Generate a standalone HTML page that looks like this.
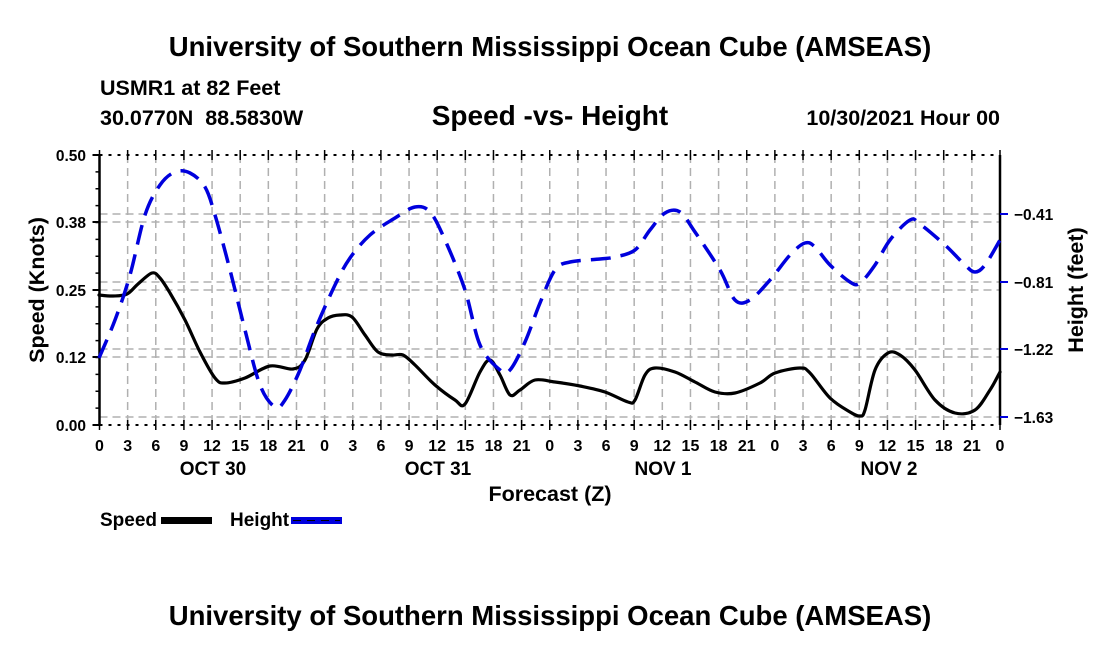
<!DOCTYPE html>
<html><head><meta charset="utf-8"><style>
html,body{margin:0;padding:0;background:#fff;}
svg{display:block;font-family:"Liberation Sans",Arial,sans-serif;font-weight:bold;}
</style></head><body>
<svg id="s" width="1100" height="650" viewBox="0 0 1100 650" xmlns="http://www.w3.org/2000/svg">
<rect width="1100" height="650" fill="#fff"/>
<text x="550" y="56" font-size="27.5" text-anchor="middle">University of Southern Mississippi Ocean Cube (AMSEAS)</text>
<text x="100" y="95" font-size="21.5">USMR1 at 82 Feet</text>
<text x="100" y="125" font-size="21.5" xml:space="preserve">30.0770N  88.5830W</text>
<text x="550" y="125" font-size="28" text-anchor="middle">Speed -vs- Height</text>
<text x="1000" y="125" font-size="21.5" text-anchor="end">10/30/2021 Hour 00</text>
<g id="grid" stroke="#b0b0b0" stroke-width="1.5" stroke-dasharray="8,5" fill="none"></g>
<g id="axes"></g>
<path id="sp" fill="none" stroke="#000" stroke-width="3.2" stroke-linejoin="round" stroke-linecap="round" data-p="99,295 113,296 127,294 138,284 152,273 160,278 170,293 185,320 200,352 215,378 225,383 245,378 270,366 293,369 305,360 317,329 328,318 340,315 352,317 365,335 378,352 392,355 403,355 415,365 435,385 455,400 465,404 480,372 490,360 500,375 510,395 520,390 535,380 555,382 580,386 605,392 628,402 635,400 645,375 655,368 675,372 695,382 715,392 735,393 760,383 775,373 800,368 810,373 830,398 850,412 860,416 865,410 875,370 888,353 900,355 915,370 935,400 955,413 975,410 990,390 1000,372"/>
<path id="hp" fill="none" stroke="#0000dd" stroke-width="3.5" stroke-dasharray="20,10" stroke-linejoin="round" data-p="99,358 115,320 130,275 145,215 160,185 175,172 190,173 205,187 215,215 230,270 245,330 260,385 275,407 285,400 300,370 315,330 335,285 350,258 370,235 395,218 415,207 430,212 445,240 465,290 480,345 500,370 510,370 525,342 540,303 555,270 570,262 600,259 615,257 635,250 650,230 665,213 680,212 695,232 720,270 735,300 750,300 770,280 790,255 805,243 815,247 830,265 850,282 860,283 875,265 890,240 910,220 920,224 945,245 965,265 975,272 985,265 1000,240"/>
<g font-size="15.5" text-anchor="end">
<text x="86" y="161">0.50</text><text x="86" y="228">0.38</text><text x="86" y="296">0.25</text><text x="86" y="363">0.12</text><text x="86" y="431">0.00</text>
</g>
<g font-size="15.5">
<text x="1014" y="220">−0.41</text><text x="1014" y="288">−0.81</text><text x="1014" y="355">−1.22</text><text x="1014" y="423">−1.63</text>
</g>
<text transform="translate(44,290) rotate(-90)" font-size="21.5" text-anchor="middle">Speed (Knots)</text>
<text transform="translate(1083,290) rotate(-90)" font-size="21.5" text-anchor="middle">Height (feet)</text>
<g id="xl" font-size="16" text-anchor="middle"></g>
<g font-size="19" text-anchor="middle">
<text x="213" y="475">OCT 30</text><text x="438" y="475">OCT 31</text><text x="663" y="475">NOV 1</text><text x="889" y="475">NOV 2</text>
</g>
<text x="550" y="501" font-size="21.5" text-anchor="middle">Forecast (Z)</text>
<text x="100" y="526" font-size="19">Speed</text>
<rect x="161" y="517" width="51" height="7" fill="#000"/>
<text x="230" y="526" font-size="19">Height</text>
<rect x="291" y="517" width="51" height="7" fill="#0000dd"/>
<line x1="293" y1="520.5" x2="340" y2="520.5" stroke="#000" stroke-width="1" stroke-dasharray="8,6"/>
<text x="550" y="625" font-size="27.5" text-anchor="middle">University of Southern Mississippi Ocean Cube (AMSEAS)</text>
</svg>
<script>
var ns="http://www.w3.org/2000/svg";
function el(p,t,a){var e=document.createElementNS(ns,t);for(var k in a)e.setAttribute(k,a[k]);p.appendChild(e);return e;}
function smooth(id){var e=document.getElementById(id);var p=e.getAttribute('data-p').split(' ').map(function(s){return s.split(',').map(Number);});
 var d='M'+p[0][0]+','+p[0][1];
 for(var i=0;i<p.length-1;i++){var p0=p[i-1]||p[i],p1=p[i],p2=p[i+1],p3=p[i+2]||p2;
  var c1x=p1[0]+(p2[0]-p0[0])/6,c1y=p1[1]+(p2[1]-p0[1])/6,c2x=p2[0]-(p3[0]-p1[0])/6,c2y=p2[1]-(p3[1]-p1[1])/6;
  d+=' C'+c1x.toFixed(1)+','+c1y.toFixed(1)+' '+c2x.toFixed(1)+','+c2y.toFixed(1)+' '+p2[0]+','+p2[1];}
 e.setAttribute('d',d);e.removeAttribute('data-p');}
smooth('sp');smooth('hp');
var g=document.getElementById('grid'),ax=document.getElementById('axes'),xl=document.getElementById('xl');
var L=99.5,R=1000,T=155,B=425,dx=(R-L)/32;
[222,214,290,282,357,349,417].forEach(function(y){el(g,'line',{x1:L,x2:R,y1:y,y2:y});});
for(var i=1;i<32;i++){var x=L+i*dx;el(g,'line',{x1:x,x2:x,y1:T,y2:B});}
el(ax,'line',{x1:L,x2:L,y1:T,y2:B,stroke:'#000','stroke-width':2.5});
el(ax,'line',{x1:R,x2:R,y1:T,y2:B,stroke:'#000','stroke-width':2.5});
el(ax,'line',{x1:L,x2:R,y1:T,y2:T,stroke:'#000','stroke-width':2,'stroke-dasharray':'3,6'});
el(ax,'line',{x1:L,x2:R,y1:B,y2:B,stroke:'#000','stroke-width':2,'stroke-dasharray':'3,6'});
var hrs=[0,3,6,9,12,15,18,21];
for(var i=0;i<=32;i++){var x=L+i*dx;
 el(ax,'line',{x1:x,x2:x,y1:B-5,y2:B+5,stroke:'#000','stroke-width':1.5});
 el(ax,'line',{x1:x,x2:x,y1:T-5,y2:T+5,stroke:'#000','stroke-width':1.5});
 var t=el(xl,'text',{x:x,y:451});t.textContent=hrs[i%8];}
[155,222,290,357,425].forEach(function(y){el(ax,'line',{x1:L-7,x2:L,y1:y,y2:y,stroke:'#000','stroke-width':2});});
for(var k=0;k<16;k++){var y=T+k*(B-T)/16;el(ax,'line',{x1:L-4,x2:L,y1:y,y2:y,stroke:'#000','stroke-width':1.5});}
[214,282,349,417].forEach(function(y){el(ax,'line',{x1:R,x2:R+8,y1:y,y2:y,stroke:'#0000dd','stroke-width':2});});
</script>
</body></html>
